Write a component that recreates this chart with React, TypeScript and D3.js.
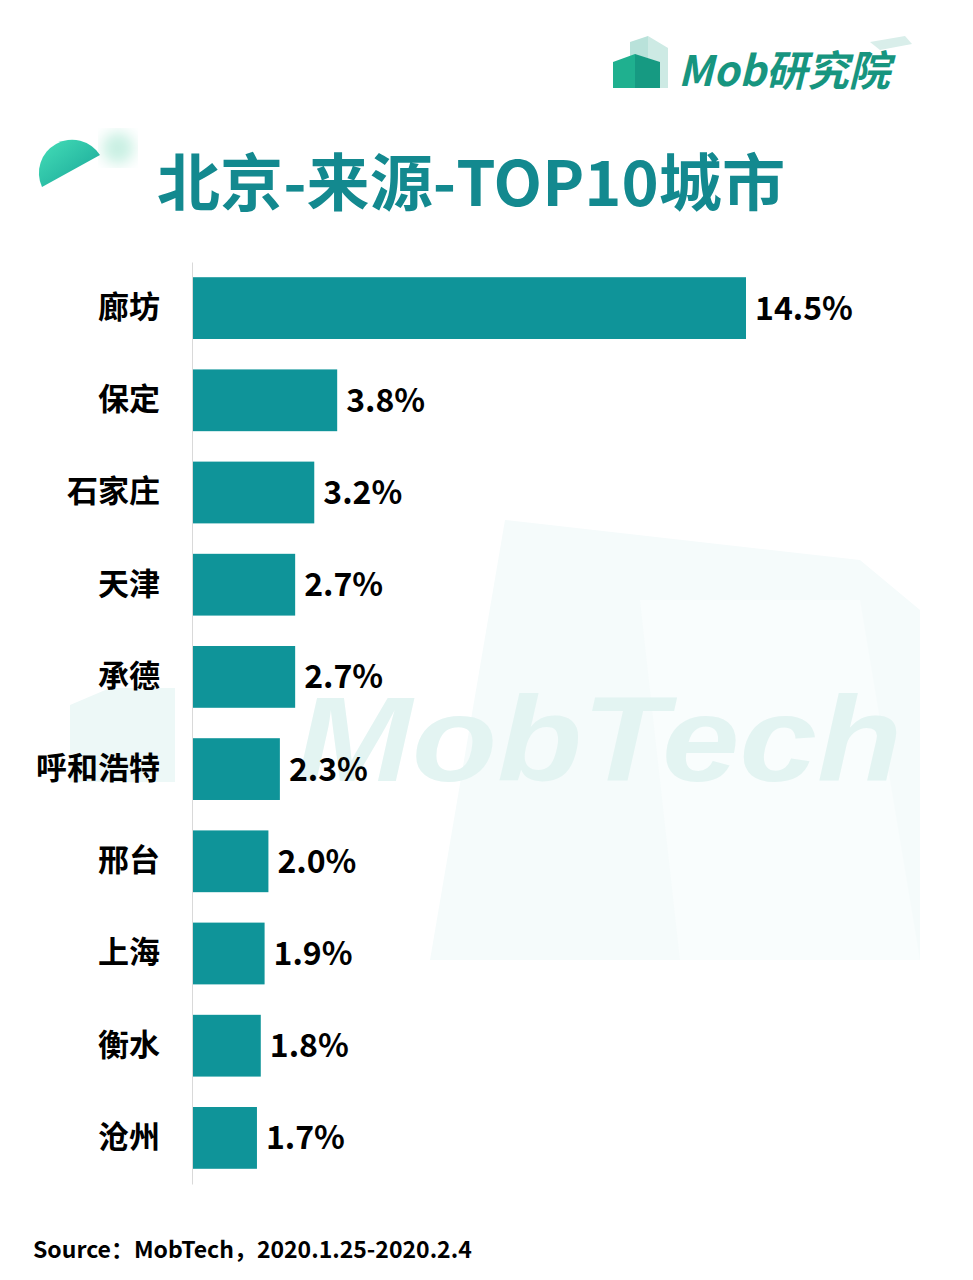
import React, { useEffect, useRef } from "react";
import * as d3 from "d3";

const cities = ["廊坊", "保定", "石家庄", "天津", "承德", "呼和浩特", "邢台", "上海", "衡水", "沧州"];
const shares = [14.5, 3.8, 3.2, 2.7, 2.7, 2.3, 2.0, 1.9, 1.8, 1.7];
const titleText = "北京-来源-TOP10城市";
const sourceText = "Source：MobTech，2020.1.25-2020.2.4";
const logoText = "Mob研究院";
const watermarkText = "MobTech";

const W = 973;
const H = 1280;
const TEAL = "#0f9499";
const FONT = "'Noto Sans CJK SC', 'Noto Sans', sans-serif";

const App: React.FC = () => {
  const svgRef = useRef<SVGSVGElement | null>(null);

  useEffect(() => {
    const svg = d3.select(svgRef.current);
    svg.selectAll("*").remove();
    svg.attr("width", W).attr("height", H);

    const defs = svg.append("defs");
    const leaf = defs.append("linearGradient").attr("id", "leaf").attr("x1", 0).attr("y1", 0).attr("x2", 1).attr("y2", 1);
    leaf.append("stop").attr("offset", "0%").attr("stop-color", "#45dfb8");
    leaf.append("stop").attr("offset", "100%").attr("stop-color", "#16a396");
    defs.append("filter").attr("id", "blur").append("feGaussianBlur").attr("stdDeviation", 7);

    svg.append("rect").attr("width", W).attr("height", H).attr("fill", "#fff");

    // background watermark
    const bg = svg.append("g");
    bg.append("polygon").attr("points", "505,520 860,560 920,610 920,960 430,960").attr("fill", "#f5fbfb");
    bg.append("polygon").attr("points", "640,600 860,600 920,960 680,960").attr("fill", "#f9fdfd");
    bg.append("polygon").attr("points", "70,705 110,688 175,688 175,782 70,782").attr("fill", "#edf8f7");
    bg.append("text")
      .attr("x", 296).attr("y", 781)
      .attr("font-family", "'Liberation Sans', Arial, sans-serif")
      .attr("font-weight", 700).attr("font-style", "italic")
      .attr("font-size", 120)
      .attr("textLength", 606).attr("lengthAdjust", "spacingAndGlyphs")
      .attr("fill", "#e3f4f2")
      .text(watermarkText);

    // logo
    const logo = svg.append("g");
    logo.append("polygon").attr("points", "630,42 648,36 648,88 630,88").attr("fill", "#b9e2da");
    logo.append("polygon").attr("points", "648,36 668,48 668,88 648,88").attr("fill", "#cdeae4");
    logo.append("polygon").attr("points", "613,62 635,54 635,88 613,88").attr("fill", "#1fb08f");
    logo.append("polygon").attr("points", "635,54 660,62 660,88 635,88").attr("fill", "#169a82");
    logo.append("polygon").attr("points", "870,42 905,36 912,44 880,50").attr("fill", "#d9eeea");
    logo.append("text")
      .attr("x", 678).attr("y", 86)
      .attr("font-family", FONT).attr("font-weight", 700).attr("font-style", "italic")
      .attr("font-size", 42)
      .attr("textLength", 212).attr("lengthAdjust", "spacingAndGlyphs")
      .attr("fill", "#17957f")
      .text(logoText);

    // title decoration
    svg.append("circle").attr("cx", 118).attr("cy", 148).attr("r", 16).attr("fill", "#c9f0e3").attr("filter", "url(#blur)");
    svg.append("path").attr("d", "M42,187 A33.2,33.2 0 0 1 100,155 Z").attr("fill", "url(#leaf)");

    svg.append("text")
      .attr("x", 157).attr("y", 206)
      .attr("font-family", FONT).attr("font-weight", 700)
      .attr("font-size", 62)
      .attr("textLength", 628).attr("lengthAdjust", "spacingAndGlyphs")
      .attr("fill", "#13898f")
      .text(titleText);

    // scales
    const x = d3.scaleLinear().domain([0, 14.5]).range([192, 746]);
    const y = d3.scaleBand<string>().domain(cities).range([262, 1184]).paddingInner(0.33).paddingOuter(0.165);

    svg.append("g")
      .selectAll("rect")
      .data(shares)
      .join("rect")
      .attr("x", x(0))
      .attr("y", (_, i) => y(cities[i])!)
      .attr("width", (d) => x(d) - x(0))
      .attr("height", y.bandwidth())
      .attr("fill", TEAL);

    svg.append("g")
      .selectAll("text")
      .data(shares)
      .join("text")
      .attr("x", (d) => x(d) + 9)
      .attr("y", (_, i) => y(cities[i])! + y.bandwidth() / 2)
      .attr("dy", "0.36em")
      .attr("font-family", FONT).attr("font-weight", 700)
      .attr("font-size", 32)
      .attr("fill", "#000")
      .text((d) => d.toFixed(1) + "%");

    const axis = svg.append("g")
      .attr("transform", `translate(${x(0)},0)`)
      .call(d3.axisLeft(y).tickSize(0).tickPadding(32));
    axis.select(".domain").attr("stroke", "#d9d9d9").attr("stroke-width", 1);
    axis.selectAll(".tick text")
      .attr("font-family", FONT).attr("font-weight", 700)
      .attr("font-size", 31)
      .attr("fill", "#000");

    svg.append("text")
      .attr("x", 33).attr("y", 1258)
      .attr("font-family", FONT).attr("font-weight", 700)
      .attr("font-size", 23)
      .attr("fill", "#000")
      .text(sourceText);
  }, []);

  return <svg ref={svgRef} style={{ position: "absolute", left: 0, top: 0 }}></svg>;
};

export default App;
